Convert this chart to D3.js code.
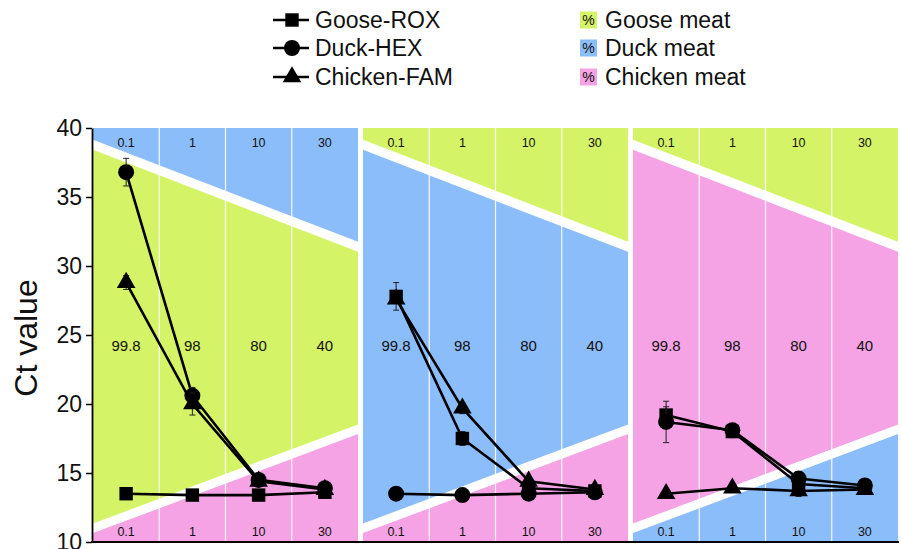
<!DOCTYPE html>
<html>
<head>
<meta charset="utf-8">
<script src="https://cdn.jsdelivr.net/npm/d3@7/dist/d3.min.js"></script>
<style>
  html, body { margin: 0; padding: 0; background: #fff; }
  svg { display: block; font-family: "Liberation Sans", Arial, sans-serif; }
</style>
</head>
<body>
<svg id="chart" width="901" height="549"></svg>
<script>
// Adulterant percentage (top/bottom of each column) and major-meat percentage (middle)
const adulterantPct = ["0.1", "1", "10", "30"];
const majorPct = ["99.8", "98", "80", "40"];
const yTicks = [10, 15, 20, 25, 30, 35, 40];

// Panels: which meat is the main matrix
const panelNames = ["Goose", "Duck", "Chicken"];

// Ct values per panel (columns follow adulterantPct)
const gooseROX = [
  [13.5, 13.4, 13.4, 13.6],
  [27.8, 17.5, 13.9, 13.7],
  [19.2, 18.0, 14.2, 13.9]
];
const duckHEX = [
  [36.8, 20.6, 14.5, 13.9],
  [13.5, 13.4, 13.5, 13.6],
  [18.7, 18.1, 14.6, 14.1]
];
const chickenFAM = [
  [28.8, 20.0, 14.4, 13.8],
  [27.6, 19.7, 14.4, 13.8],
  [13.5, 13.9, 13.7, 13.8]
];
// Standard deviations
const gooseErr = [
  [0.15, 0.1, 0.1, 0.15],
  [1.0, 0.5, 0.2, 0.2],
  [0.6, 0.2, 0.3, 0.2]
];
const duckErr = [
  [1.0, 0.6, 0.2, 0.2],
  [0.1, 0.1, 0.2, 0.2],
  [1.5, 0.2, 0.3, 0.2]
];
const chickenErr = [
  [0.5, 0.8, 0.2, 0.2],
  [0.2, 0.4, 0.2, 0.2],
  [0.3, 0.3, 0.4, 0.2]
];

const COLORS = { Goose: "#d5f366", Duck: "#8cbdfb", Chicken: "#f5a3e5" };
// zone colours per panel: [top, middle, bottom]
const panelZones = [
  ["Duck", "Goose", "Chicken"],
  ["Goose", "Duck", "Chicken"],
  ["Goose", "Chicken", "Duck"]
];
// white diagonal separators, expressed in Ct units at panel left / right edge
const upperDivider = [38.84, 31.34];
const lowerDivider = [10.94, 18.22];

const svg = d3.select("#chart");

const y = d3.scaleLinear().domain([10, 40]).range([542, 128]);
const panelX = d3.scaleBand().domain(d3.range(3)).range([93, 898]).paddingInner(0.0185).paddingOuter(0);
const pw = panelX.bandwidth();

const series = [
  { name: "Goose-ROX", values: gooseROX, err: gooseErr, shape: "square" },
  { name: "Duck-HEX", values: duckHEX, err: duckErr, shape: "circle" },
  { name: "Chicken-FAM", values: chickenFAM, err: chickenErr, shape: "triangle" }
];

function markerPath(shape) {
  if (shape === "square") return d3.symbol(d3.symbolSquare, 180)();
  if (shape === "circle") return d3.symbol(d3.symbolCircle, 200)();
  return d3.symbol(d3.symbolTriangle, 150)();
}

const defs = svg.append("defs");

panelNames.forEach((pname, i) => {
  const x0 = panelX(i);
  const col = d3.scaleBand().domain(adulterantPct).range([x0, x0 + pw]);
  const g = svg.append("g");
  const clipId = "clip" + i;
  defs.append("clipPath").attr("id", clipId)
    .append("rect").attr("x", x0).attr("y", y(40)).attr("width", pw).attr("height", y(10) - y(40));
  const bg = g.append("g").attr("clip-path", `url(#${clipId})`);
  const zones = panelZones[i];

  // middle zone
  bg.append("rect").attr("x", x0).attr("y", y(40)).attr("width", pw).attr("height", y(10) - y(40))
    .attr("fill", COLORS[zones[1]]);
  // top zone
  bg.append("path")
    .attr("d", `M${x0},${y(40)}L${x0 + pw},${y(40)}L${x0 + pw},${y(upperDivider[1])}L${x0},${y(upperDivider[0])}Z`)
    .attr("fill", COLORS[zones[0]]);
  // bottom zone
  bg.append("path")
    .attr("d", `M${x0},${y(10)}L${x0 + pw},${y(10)}L${x0 + pw},${y(lowerDivider[1])}L${x0},${y(lowerDivider[0])}Z`)
    .attr("fill", COLORS[zones[2]]);
  // column separators
  adulterantPct.slice(1).forEach(c => {
    bg.append("line").attr("x1", col(c)).attr("x2", col(c)).attr("y1", y(40)).attr("y2", y(10))
      .attr("stroke", "#fff").attr("stroke-width", 1.2).attr("stroke-opacity", 0.9);
  });
  // white dividers
  bg.append("line").attr("x1", x0 - 2).attr("x2", x0 + pw + 2)
    .attr("y1", y(upperDivider[0])).attr("y2", y(upperDivider[1]))
    .attr("stroke", "#fff").attr("stroke-width", 9.5);
  bg.append("line").attr("x1", x0 - 2).attr("x2", x0 + pw + 2)
    .attr("y1", y(lowerDivider[0])).attr("y2", y(lowerDivider[1]))
    .attr("stroke", "#fff").attr("stroke-width", 9);

  // labels
  const cx = c => col(c) + col.bandwidth() / 2;
  g.selectAll(".top").data(adulterantPct).join("text")
    .attr("x", cx).attr("y", 147).attr("text-anchor", "middle")
    .attr("font-size", 12.5).attr("fill", "#111").text(d => d);
  g.selectAll(".mid").data(majorPct).join("text")
    .attr("x", (d, j) => cx(adulterantPct[j])).attr("y", 351).attr("text-anchor", "middle")
    .attr("font-size", 15).attr("fill", "#111").text(d => d);
  g.selectAll(".bot").data(adulterantPct).join("text")
    .attr("x", cx).attr("y", 536).attr("text-anchor", "middle")
    .attr("font-size", 12.5).attr("fill", "#111").text(d => d);

  // series lines, error bars, markers
  series.forEach(s => {
    const vals = s.values[i];
    const errs = s.err[i];
    const pts = vals.map((v, j) => ({ x: cx(adulterantPct[j]), v, e: errs[j] }));
    g.append("path").datum(pts)
      .attr("d", d3.line().x(d => d.x).y(d => y(d.v)))
      .attr("fill", "none").attr("stroke", "#000").attr("stroke-width", 2.6);
    const eb = g.append("g");
    pts.forEach(p => {
      eb.append("line").attr("x1", p.x).attr("x2", p.x).attr("y1", y(p.v + p.e)).attr("y2", y(p.v - p.e))
        .attr("stroke", "#222").attr("stroke-width", 1);
      [p.v + p.e, p.v - p.e].forEach(t => {
        eb.append("line").attr("x1", p.x - 3).attr("x2", p.x + 3).attr("y1", y(t)).attr("y2", y(t))
          .attr("stroke", "#222").attr("stroke-width", 1);
      });
    });
    g.selectAll(null).data(pts).join("path")
      .attr("d", markerPath(s.shape))
      .attr("transform", d => `translate(${d.x},${y(d.v)})`)
      .attr("fill", "#000");
  });
});

// y axis
const yAxis = svg.append("g").attr("transform", "translate(92,0)")
  .call(d3.axisLeft(y).tickValues(yTicks).tickSize(6).tickSizeOuter(0).tickPadding(4));
yAxis.selectAll("text").attr("font-size", 23).attr("fill", "#111").attr("font-family", "Liberation Sans, Arial, sans-serif");
yAxis.selectAll("line").attr("stroke", "#000").attr("stroke-width", 1.5);
yAxis.select(".domain").attr("stroke", "#000").attr("stroke-width", 1.8);

// x baseline
svg.append("line").attr("x1", 91).attr("x2", 899).attr("y1", y(10)).attr("y2", y(10))
  .attr("stroke", "#000").attr("stroke-width", 2);

svg.append("text").attr("transform", "translate(37,338) rotate(-90)")
  .attr("text-anchor", "middle").attr("font-size", 32).attr("fill", "#111").text("Ct value");

// legend: series
const legendRows = [20, 48, 77];
series.forEach((s, k) => {
  const ly = legendRows[k];
  svg.append("line").attr("x1", 273).attr("x2", 309).attr("y1", ly).attr("y2", ly)
    .attr("stroke", "#000").attr("stroke-width", 2.6);
  svg.append("path").attr("d", markerPath(s.shape)).attr("transform", `translate(292,${ly})`).attr("fill", "#000");
  svg.append("text").attr("x", 315).attr("y", ly + 8).attr("font-size", 23).attr("fill", "#111").text(s.name);
});
// legend: meat zones
panelNames.forEach((pname, k) => {
  const ly = legendRows[k];
  svg.append("rect").attr("x", 580).attr("y", ly - 8.5).attr("width", 17).attr("height", 17).attr("fill", COLORS[pname]);
  svg.append("text").attr("x", 588.5).attr("y", ly + 5).attr("text-anchor", "middle")
    .attr("font-size", 14).attr("fill", "#111").text("%");
  svg.append("text").attr("x", 605).attr("y", ly + 8).attr("font-size", 23).attr("fill", "#111").text(pname + " meat");
});
</script>
</body>
</html>
